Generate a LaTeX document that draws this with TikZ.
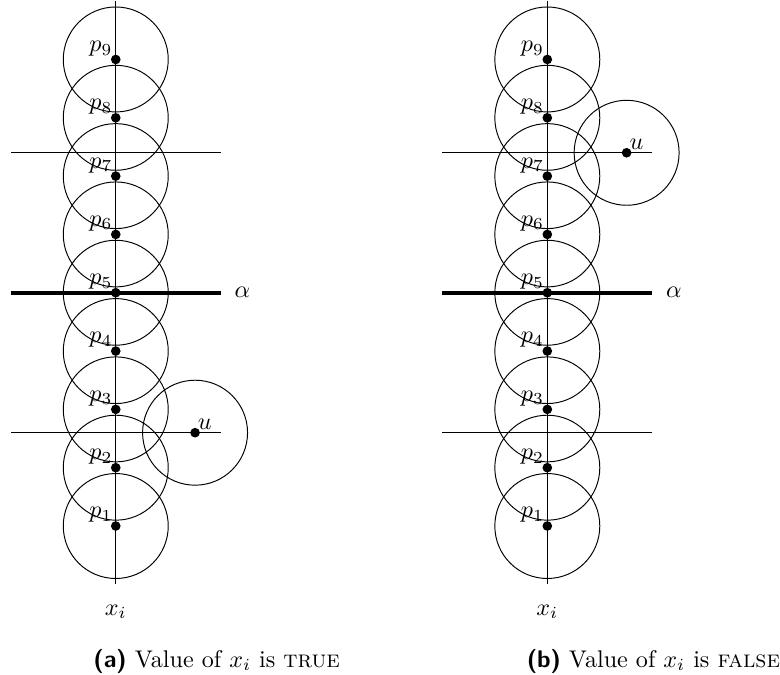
\documentclass[tikz,border=0pt]{standalone}
\usetikzlibrary{positioning}

\begin{document}
\begin{tikzpicture}[
  x=0.85cm, y=0.85cm,
  thin line/.style={line width=0.4pt},
  alpha line/.style={line width=1.8pt},
  disk/.style={line width=0.4pt},
  dot/.style={circle, fill=black, inner sep=0pt, minimum size=4pt},
  plabel/.style={above left, inner sep=1.2pt},
  ulabel/.style={above right, inner sep=1pt},
  caption/.style={anchor=base west, inner sep=0pt}
]
\useasboundingbox (-1.985,-6.54) rectangle (11.39,5.02);

% one panel per value of x_i
\foreach \panel/\dx/\uy in {a/0/-2.4, b/7.4/2.4}{
  \begin{scope}[shift={(\dx,0)}]
    \foreach \k in {1,...,9}
      \draw[disk] (0,\k-5) circle (0.9);
    \draw[disk] (1.36,\uy) circle (0.9);
    \draw[thin line] (0,-5) -- (0,5);
    \draw[thin line] (-1.8,2.4) -- (1.8,2.4);
    \draw[thin line] (-1.8,-2.4) -- (1.8,-2.4);
    \draw[alpha line] (-1.8,0) -- (1.8,0);
    \foreach \k in {1,...,9}{
      \node[dot] (\panel p\k) at (0,\k-5) {};
      \node[plabel] at (\panel p\k) {$p_{\k}$};
    }
    \node[dot] (\panel u) at (1.36,\uy) {};
    \node[ulabel] at (\panel u) {$u$};
    \node (\panel alpha) at (2.17,0) {$\alpha$};
    \node[anchor=base] (\panel x) at (0,-5.53) {$x_i$};
  \end{scope}
}

\node[caption] (capa) at (-0.39,-6.42)
  {\textsf{\textbf{(a)}} Value of $x_i$ is \textsc{true}};
\node[caption] (capb) at (7.04,-6.42)
  {\textsf{\textbf{(b)}} Value of $x_i$ is \textsc{false}};
\end{tikzpicture}
\end{document}
